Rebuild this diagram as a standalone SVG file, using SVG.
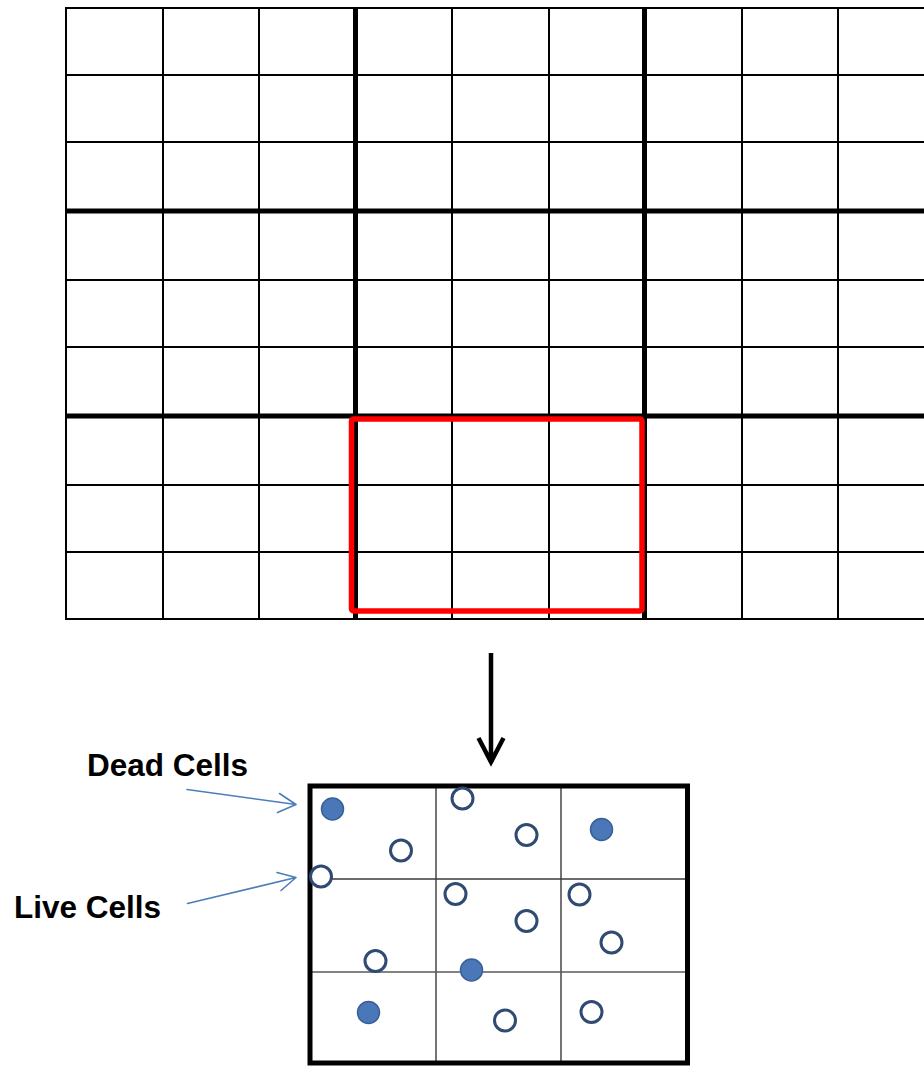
<svg xmlns="http://www.w3.org/2000/svg" width="924" height="1066" viewBox="0 0 924 1066">
<style>
.thin{stroke:#000;stroke-width:2;fill:none}
.thick{stroke:#000;stroke-width:5;fill:none}
.inner{stroke:#3a3a3a;stroke-width:1.4;fill:none}
.live{fill:#fff;stroke:#2f4b72;stroke-width:3}
.dead{fill:#4a77b8;stroke:#3a5f96;stroke-width:1.5}
.lbl{font-family:"Liberation Sans",Arial,sans-serif;font-weight:bold;font-size:31.5px;fill:#000}
.ptr{stroke:#4a7ebb;stroke-width:1.6;fill:none;stroke-linecap:round;stroke-linejoin:round}
</style>
<rect width="924" height="1066" fill="#fff"/>
<g id="grid">
<g class="thin">
<line x1="66" y1="8" x2="924" y2="8"/>
<line x1="66" y1="75" x2="924" y2="75"/>
<line x1="66" y1="142" x2="924" y2="142"/>
<line x1="66" y1="280" x2="924" y2="280"/>
<line x1="66" y1="347" x2="924" y2="347"/>
<line x1="66" y1="485" x2="924" y2="485"/>
<line x1="66" y1="552" x2="924" y2="552"/>
<line x1="66" y1="619" x2="924" y2="619"/>
<line x1="66" y1="7" x2="66" y2="620"/>
<line x1="163" y1="8" x2="163" y2="619"/>
<line x1="259" y1="8" x2="259" y2="619"/>
<line x1="452" y1="8" x2="452" y2="619"/>
<line x1="549" y1="8" x2="549" y2="619"/>
<line x1="742" y1="8" x2="742" y2="619"/>
<line x1="838" y1="8" x2="838" y2="619"/>
</g>
<g class="thick">
<line x1="66" y1="211" x2="924" y2="211"/>
<line x1="66" y1="416" x2="924" y2="416"/>
<line x1="355.5" y1="8" x2="355.5" y2="619"/>
<line x1="644.5" y1="8" x2="644.5" y2="619"/>
</g>
</g>
<g id="selection">
<rect x="351.5" y="419" width="290.5" height="192" rx="2" fill="none" stroke="#f00" stroke-width="5.5"/>
</g>
<g id="zoom-box">
<g class="inner">
<line x1="436" y1="786" x2="436" y2="1063"/>
<line x1="561" y1="786" x2="561" y2="1063"/>
<line x1="310" y1="879" x2="688" y2="879"/>
<line x1="310" y1="972" x2="688" y2="972" stroke="#5a5a5a"/>
</g>
<rect x="310" y="786" width="377.5" height="277" fill="none" stroke="#000" stroke-width="5"/>
</g>
<g id="cells">
<circle class="dead" cx="332.5" cy="809" r="11"/>
<circle class="dead" cx="601.5" cy="829.5" r="11"/>
<circle class="dead" cx="471.5" cy="970" r="11"/>
<circle class="dead" cx="368.5" cy="1012.5" r="11"/>
<circle class="live" cx="462.5" cy="798.5" r="10.5"/>
<circle class="live" cx="526.5" cy="835" r="10.5"/>
<circle class="live" cx="401" cy="850.5" r="10.5"/>
<circle class="live" cx="321" cy="876.5" r="10.5"/>
<circle class="live" cx="455.5" cy="894" r="10.5"/>
<circle class="live" cx="579.5" cy="894.5" r="10.5"/>
<circle class="live" cx="526.5" cy="921" r="10.5"/>
<circle class="live" cx="611.5" cy="942.5" r="10.5"/>
<circle class="live" cx="375.5" cy="961" r="10.5"/>
<circle class="live" cx="505" cy="1020.5" r="10.5"/>
<circle class="live" cx="591.5" cy="1012" r="10.5"/>
</g>
<g id="label-dead"><text class="lbl" x="87" y="776">Dead Cells</text></g>
<g id="label-live"><text class="lbl" x="14" y="918">Live Cells</text></g>
<g id="connectors">
<path d="M491 653 V762 M478.5 738 L491 762 L503.5 738" fill="none" stroke="#000" stroke-width="4.5" stroke-linejoin="miter"/>
<path class="ptr" d="M187 789.5 L296 804.5 M279.5 793.5 L296 804.5 L277.5 812.5"/>
<path class="ptr" d="M187.5 903.5 L296 877.5 M277 872.5 L296 877.5 L281 890.5"/>
</g>
</svg>
